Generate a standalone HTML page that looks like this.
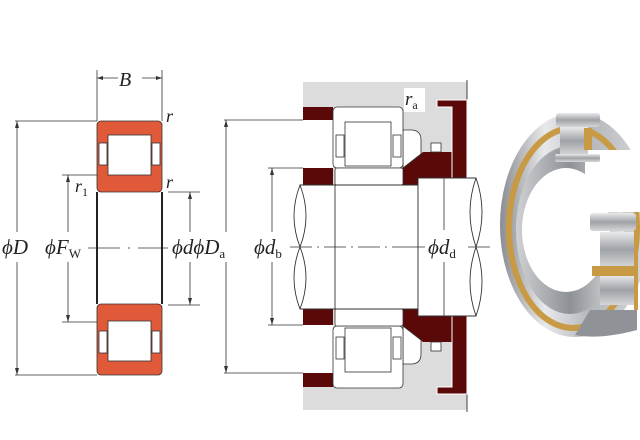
<!DOCTYPE html>
<html><head><meta charset="utf-8"><style>
html,body{margin:0;padding:0;background:#fff}
svg{display:block}
text{font-family:"Liberation Serif",serif;font-style:italic;fill:#222}
</style></head><body>
<svg width="640" height="440" viewBox="0 0 640 440" xmlns="http://www.w3.org/2000/svg">
<defs>
<linearGradient id="g1" x1="0" x2="1" y1="0" y2="0"><stop offset="0" stop-color="#8a8d92"/><stop offset="0.3" stop-color="#e8e9eb"/><stop offset="0.6" stop-color="#b4b7bb"/><stop offset="1" stop-color="#d8d9db"/></linearGradient>
<linearGradient id="g2" x1="0" x2="1" y1="0" y2="0"><stop offset="0" stop-color="#cfd1d4"/><stop offset="0.5" stop-color="#8d9095"/><stop offset="1" stop-color="#e4e5e7"/></linearGradient>
<linearGradient id="g3" x1="0" x2="0" y1="0" y2="1"><stop offset="0" stop-color="#e9eaec"/><stop offset="0.5" stop-color="#9fa2a6"/><stop offset="1" stop-color="#d5d6d8"/></linearGradient>
</defs>
<g stroke="#333" stroke-width="0.8" fill="none">
<!-- left bearing dims -->
<line x1="97" y1="70" x2="97" y2="121"/><line x1="162" y1="70" x2="162" y2="121"/>
<line x1="97" y1="78" x2="118" y2="78"/><line x1="142" y1="78" x2="162" y2="78"/>
<line x1="15" y1="121" x2="97" y2="121"/><line x1="15" y1="375" x2="97" y2="375"/>
<line x1="17" y1="121" x2="17" y2="232"/><line x1="17" y1="262" x2="17" y2="375"/>
<line x1="62" y1="175" x2="97" y2="175"/><line x1="62" y1="322" x2="97" y2="322"/>
<line x1="68" y1="175" x2="68" y2="232"/><line x1="68" y1="262" x2="68" y2="322"/>
<line x1="168" y1="192" x2="200" y2="192"/><line x1="168" y1="305" x2="200" y2="305"/>
<line x1="190" y1="192" x2="190" y2="232"/><line x1="190" y1="262" x2="190" y2="305"/>
<line x1="88" y1="248" x2="120" y2="248"/><line x1="128" y1="248" x2="130" y2="248"/><line x1="138" y1="248" x2="168" y2="248"/>
<!-- middle dims -->
<line x1="224" y1="120" x2="303" y2="120"/><line x1="224" y1="373" x2="303" y2="373"/>
<line x1="226" y1="120" x2="226" y2="232"/><line x1="226" y1="262" x2="226" y2="373"/>
<line x1="268" y1="168" x2="303" y2="168"/><line x1="268" y1="325" x2="303" y2="325"/>
<line x1="272" y1="168" x2="272" y2="232"/><line x1="272" y1="262" x2="272" y2="325"/>
</g>
<g fill="#333">
<polygon points="97,78 103,76 103,80"/><polygon points="162,78 156,76 156,80"/>
<polygon points="17,121 15,128 19,128"/><polygon points="17,375 15,368 19,368"/>
<polygon points="68,175 66,182 70,182"/><polygon points="68,322 66,315 70,315"/>
<polygon points="190,192 188,199 192,199"/><polygon points="190,305 188,298 192,298"/>
<polygon points="226,120 224,127 228,127"/><polygon points="226,373 224,366 228,366"/>
<polygon points="272,168 270,175 274,175"/><polygon points="272,325 270,318 274,318"/>
</g>
<!-- left bearing -->
<g stroke="#333" stroke-width="0.8">
<rect x="97" y="121" width="65" height="71" rx="4" fill="#e05a3a"/>
<rect x="108" y="135" width="43" height="40" fill="#fff"/>
<rect x="99" y="143" width="8" height="22" fill="#fff"/><rect x="152" y="143" width="8" height="22" fill="#fff"/>
<rect x="97" y="304" width="65" height="71" rx="4" fill="#e05a3a"/>
<rect x="108" y="321" width="43" height="40" fill="#fff"/>
<rect x="99" y="331" width="8" height="22" fill="#fff"/><rect x="152" y="331" width="8" height="22" fill="#fff"/>
</g>
<line x1="97" y1="192" x2="97" y2="304" stroke="#222" stroke-width="2"/>
<line x1="162" y1="192" x2="162" y2="304" stroke="#222" stroke-width="2"/>
<!-- middle assembly -->
<rect x="303" y="82" width="164" height="328" fill="#dcdcdc"/>
<line x1="467" y1="80" x2="467" y2="412" stroke="#444" stroke-width="1"/>
<rect x="303" y="120" width="30" height="253" fill="#fff"/>
<rect x="303" y="107" width="30" height="13" fill="#5a0808"/>
<rect x="303" y="373" width="30" height="14" fill="#5a0808"/>
<rect x="303" y="168" width="30" height="17" fill="#5a0808"/>
<rect x="303" y="308" width="30" height="17" fill="#5a0808"/>
<!-- spacer -->
<polygon points="403,168 423,152 452,152 452,178 420,178 420,185 403,185" fill="#5a0808"/>
<polygon points="403,326 423,342 452,342 452,316 420,316 420,309 403,309" fill="#5a0808"/>
<!-- end cover -->
<polygon points="437,100 467,100 467,178 452,178 452,107 437,107" fill="#5a0808" stroke="#fff" stroke-width="1"/>
<polygon points="437,394 467,394 467,316 452,316 452,387 437,387" fill="#5a0808" stroke="#fff" stroke-width="1"/>
<g stroke="#333" stroke-width="0.8" fill="#fff">
<rect x="431" y="143" width="10" height="9"/><rect x="431" y="342" width="10" height="9"/>
<!-- bearing upper -->
<path d="M403,130 h8 q10,0 10,10 v14 l-18,14z"/>
<rect x="333" y="107" width="70" height="61" rx="4"/>
<rect x="345" y="122" width="46" height="44"/>
<rect x="336" y="135" width="8" height="22"/><rect x="393" y="135" width="8" height="22"/>
<rect x="335" y="168" width="68" height="17" rx="2"/>
<path d="M403,364 h8 q10,0 10,-10 v-14 l-18,-14z"/>
<rect x="333" y="326" width="70" height="62" rx="4"/>
<rect x="345" y="328" width="46" height="44"/>
<rect x="336" y="337" width="8" height="22"/><rect x="393" y="337" width="8" height="22"/>
<rect x="335" y="309" width="68" height="17" rx="2"/>
</g>
<!-- shafts -->
<g stroke="#333" stroke-width="0.9" fill="#fff">
<path d="M300,185 H418 V309 H300 Q288,278 300,247 Q312,216 300,185z"/>
<path d="M300,185 Q288,216 300,247 Q312,278 300,309" fill="none"/>
<path d="M418,178 H476 Q488,212 476,247 Q464,282 476,316 H418z"/>
<path d="M476,178 Q464,212 476,247 Q488,282 476,316" fill="none"/>
<line x1="335" y1="185" x2="335" y2="309"/>
</g>
<g stroke="#333" stroke-width="0.8">
<line x1="290" y1="247" x2="400" y2="247" stroke-dasharray="22,5,2,5"/>
<line x1="400" y1="247" x2="425" y2="247"/><line x1="468" y1="247" x2="490" y2="247"/>
<line x1="444" y1="178" x2="444" y2="230"/><line x1="444" y1="262" x2="444" y2="316"/>
</g>
<rect x="404" y="88" width="21" height="24" fill="#fff"/>
<!-- labels -->
<text x="119" y="86" font-size="20">B</text>
<text x="166" y="122" font-size="18">r</text>
<text x="166" y="188" font-size="18">r</text>
<text x="75" y="192" font-size="18">r<tspan font-style="normal" font-size="12" dy="4">1</tspan></text>
<text x="2" y="254" font-size="21">ϕD</text>
<text x="45" y="254" font-size="21">ϕF<tspan font-style="normal" font-size="13" dy="4">W</tspan></text>
<text x="172" y="254" font-size="21">ϕdϕD<tspan font-style="normal" font-size="13" dy="4">a</tspan></text>
<text x="254" y="254" font-size="21">ϕd<tspan font-style="normal" font-size="13" dy="4">b</tspan></text>
<text x="428" y="254" font-size="21">ϕd<tspan font-style="normal" font-size="13" dy="4">d</tspan></text>
<text x="405" y="105" font-size="19">r<tspan font-style="normal" font-size="12" dy="4">a</tspan></text>
<!-- photo bearing -->
<ellipse cx="575" cy="225" rx="75" ry="112" fill="url(#g1)"/>
<ellipse cx="573" cy="228" rx="64" ry="100" fill="none" stroke="#c99a45" stroke-width="6"/>
<ellipse cx="570" cy="230" rx="54" ry="84" fill="url(#g2)"/>
<ellipse cx="566" cy="230" rx="44" ry="62" fill="#fff"/>
<rect x="585" y="150" width="60" height="62" fill="#fff"/>
<rect x="566" y="195" width="30" height="22" fill="#fff"/>
<rect x="556" y="113" width="44" height="14" rx="3" fill="url(#g3)"/>
<rect x="560" y="127" width="28" height="28" fill="url(#g3)"/>
<rect x="584" y="128" width="8" height="22" fill="#c99a45"/>
<rect x="555" y="154" width="45" height="8" rx="2" fill="url(#g3)"/>
<rect x="590" y="213" width="46" height="18" rx="3" fill="url(#g3)"/>
<rect x="600" y="232" width="34" height="35" fill="url(#g3)"/>
<rect x="600" y="275" width="34" height="30" fill="url(#g3)"/>
<rect x="592" y="266" width="44" height="10" fill="#c99a45"/>
<rect x="634" y="230" width="4" height="80" fill="#c99a45"/>
<path d="M590,310 H637 V330 Q600,340 575,335z" fill="#8f9297"/>
</svg>
</body></html>
